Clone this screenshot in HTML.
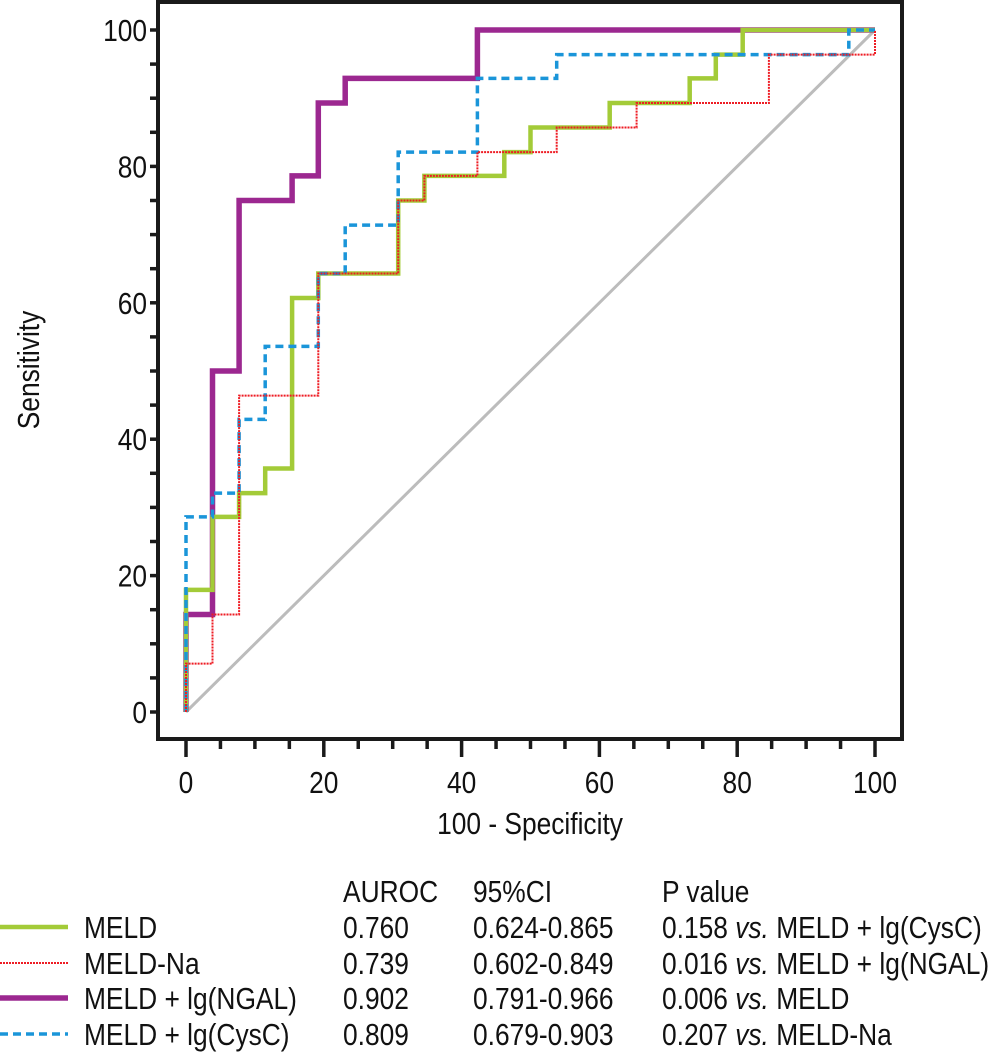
<!DOCTYPE html>
<html><head><meta charset="utf-8"><style>
html,body{margin:0;padding:0;background:#fff;}
svg{display:block;font-family:"Liberation Sans",sans-serif;}
</style></head><body>
<svg id="chart" width="991" height="1060" viewBox="0 0 991 1060" xmlns="http://www.w3.org/2000/svg">
<g id="plot"></g>
<g id="axes"></g>
<g id="legend"></g>
</svg>
<script>
// data (x = 100 - specificity, y = sensitivity)
const meldX = [0,0,3.85,3.85,7.7,7.7,11.5,11.5,15.4,15.4,19.2,19.2,30.8,30.8,34.6,34.6,46.2,46.2,50,50,61.5,61.5,73.1,73.1,76.9,76.9,80.8,80.8,100];
const meldY = [0,17.9,17.9,28.6,28.6,32.1,32.1,35.7,35.7,60.7,60.7,64.3,64.3,75,75,78.6,78.6,82.1,82.1,85.7,85.7,89.3,89.3,92.9,92.9,96.4,96.4,100,100];
const naX = [0,0,3.85,3.85,7.7,7.7,19.2,19.2,30.8,30.8,34.6,34.6,42.3,42.3,53.8,53.8,65.4,65.4,84.6,84.6,100,100];
const naY = [0,7.1,7.1,14.3,14.3,46.4,46.4,64.3,64.3,75,75,78.6,78.6,82.1,82.1,85.7,85.7,89.3,89.3,96.4,96.4,100];
const ngalX = [0,0,3.85,3.85,7.7,7.7,15.4,15.4,19.2,19.2,23.1,23.1,42.3,42.3,100];
const ngalY = [0,14.3,14.3,50,50,75,75,78.6,78.6,89.3,89.3,92.9,92.9,100,100];
const cysX = [0,0,3.85,3.85,7.7,7.7,11.5,11.5,19.2,19.2,23.1,23.1,30.8,30.8,42.3,42.3,53.8,53.8,96.2,96.2,100];
const cysY = [0,28.6,28.6,32.1,32.1,42.9,42.9,53.6,53.6,64.3,64.3,71.4,71.4,82.1,82.1,92.9,92.9,96.4,96.4,100,100];
const xTicks = [0,20,40,60,80,100];
const yTicks = [0,20,40,60,80,100];

const NS="http://www.w3.org/2000/svg";
const X0=186,X1=875,Y0=712,Y1=30;
function sx(v){return X0+(X1-X0)*v/100;}
function sy(v){return Y0-(Y0-Y1)*v/100;}
function mk(tag,attrs,parent){const e=document.createElementNS(NS,tag);for(const k in attrs)e.setAttribute(k,attrs[k]);parent.appendChild(e);return e;}
function txt(parent,x,y,s,anchor,extra){const t=mk('text',{transform:`translate(${x},${y}) scale(0.85,1)`,'font-size':31,'text-anchor':anchor||'start',fill:'#111'},parent);if(extra)t.innerHTML=s;else t.textContent=s;return t;}

const plot=document.getElementById('plot'),axes=document.getElementById('axes'),legend=document.getElementById('legend');
// diagonal
const diag=mk('line',{x1:sx(0),y1:sy(0),x2:sx(100),y2:sy(100),stroke:'#bcbcbc','stroke-width':3},plot);



function curve(xs,ys,style,name){
  let d='';for(let i=0;i<xs.length;i++)d+=(i?'L':'M')+sx(xs[i]).toFixed(1)+','+sy(ys[i]).toFixed(1);
  const p=mk('path',Object.assign({d:d,fill:'none','stroke-linejoin':'miter'},style),plot);
  
  
}
const sMeld={stroke:'#a3cb38','stroke-width':4.5};
const sNa={stroke:'#ee1c24','stroke-width':2,'stroke-dasharray':'2,1'};
const sNgal={stroke:'#9c2890','stroke-width':5.5};
const sCys={stroke:'#1a95d9','stroke-width':3.5,'stroke-dasharray':'8,5'};
curve(ngalX,ngalY,sNgal,'curve-meld-ngal');
curve(meldX,meldY,sMeld,'curve-meld');
curve(cysX,cysY,sCys,'curve-meld-cysc');
curve(naX,naY,sNa,'curve-meld-na');

// frame
const fr=mk('rect',{x:158,y:2,width:744,height:737,fill:'none',stroke:'#1a1a1a','stroke-width':4},axes);


for(let v=0;v<=100;v+=5){
  const major=v%20===0;
  mk('line',{x1:sx(v),y1:739,x2:sx(v),y2:major?757:749,stroke:'#1a1a1a','stroke-width':3.5},axes);
  mk('line',{x1:150,y1:sy(v),x2:158,y2:sy(v),stroke:'#1a1a1a','stroke-width':3.5},axes);
}
xTicks.forEach(v=>{const t=txt(axes,sx(v),793,String(v),'middle');
  
  });
yTicks.forEach(v=>{const t=txt(axes,147,sy(v)+11,String(v),'end');
  
  });
const xt=txt(axes,530,834,'100 - Specificity','middle');


const yt=mk('text',{transform:'translate(39,370) rotate(-90) scale(0.85,1)','font-size':31,'text-anchor':'middle',fill:'#111'},axes);
yt.textContent='Sensitivity';



// legend
const hdr=[['AUROC',343],['95%CI',473],['P value',662]];
hdr.forEach(h=>{const t=txt(legend,h[1],902,h[0]);
  
  });
const rows=[
 ['MELD','0.760','0.624-0.865','0.158 <tspan font-style="italic">vs.</tspan> MELD + lg(CysC)',sMeld],
 ['MELD-Na','0.739','0.602-0.849','0.016 <tspan font-style="italic">vs.</tspan> MELD + lg(NGAL)',sNa],
 ['MELD + lg(NGAL)','0.902','0.791-0.966','0.006 <tspan font-style="italic">vs.</tspan> MELD',sNgal],
 ['MELD + lg(CysC)','0.809','0.679-0.903','0.207 <tspan font-style="italic">vs.</tspan> MELD-Na',sCys]];
const base=[938,974,1009,1045];
rows.forEach((r,i)=>{
  const g=mk('g',{},legend);
  
  
  mk('line',Object.assign({x1:0,y1:base[i]-11,x2:68,y2:base[i]-11},r[4]),g);
  txt(g,84,base[i],r[0]);
  txt(g,343,base[i],r[1]);
  txt(g,473,base[i],r[2]);
  txt(g,662,base[i],r[3],'start',true);
});
</script>
</body></html>
